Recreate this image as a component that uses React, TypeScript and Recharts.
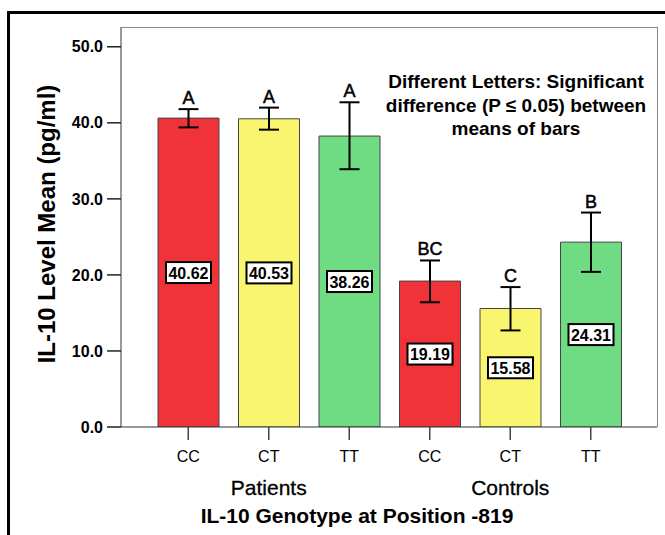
import React from 'react';
import { BarChart, Bar, XAxis, YAxis, ErrorBar, Cell, LabelList } from 'recharts';

// ---- data ----
const categories = ['CC', 'CT', 'TT', 'CC', 'CT', 'TT'];
const groups = ['Patients', 'Patients', 'Patients', 'Controls', 'Controls', 'Controls'];
const means = [40.62, 40.53, 38.26, 19.19, 15.58, 24.31];
const ciLow = [39.4, 39.1, 33.9, 16.4, 12.7, 20.4];
const ciHigh = [41.8, 42.0, 42.7, 21.9, 18.4, 28.2];
const letters = ['A', 'A', 'A', 'BC', 'C', 'B'];
const yTicks = [0, 10, 20, 30, 40, 50];
const groupLabelIndex = [1, 4];
const yTitle = 'IL-10 Level Mean (pg/ml)';
const xTitle = 'IL-10 Genotype at Position -819';
const noteLines = ['Different Letters: Significant', 'difference (P \u2264 0.05) between', 'means of bars'];

// ---- styles ----
const FONT = '"Liberation Sans", Arial, Helvetica, sans-serif';
const barColors = ['#EF3339', '#FAF56E', '#6FDC84', '#EF3339', '#FAF56E', '#6FDC84'];

const data = categories.map((c, i) => ({
  key: i,
  cat: c,
  mean: means[i],
  err: [means[i] - ciLow[i], ciHigh[i] - means[i]],
}));

function CategoryTick(props: any) {
  const { x, y, payload } = props;
  const i = Number(payload.value);
  return (
    <g>
      <text x={x} y={y + 22} textAnchor="middle" fontFamily={FONT} fontSize={16} fill="#000">
        {categories[i]}
      </text>
      {groupLabelIndex.includes(i) && (
        <text
          x={x}
          y={y + 55}
          textAnchor="middle"
          fontFamily={FONT}
          fontSize={21}
          fill="#000"
          stroke="#000"
          strokeWidth={0.3}
        >
          {groups[i]}
        </text>
      )}
    </g>
  );
}

function ValueBox(props: any) {
  const { x, y, width, height, value } = props;
  const cx = x + width / 2;
  const cy = y + height / 2;
  const bw = 45;
  const bh = 21;
  return (
    <g>
      <rect x={cx - bw / 2} y={cy - bh / 2} width={bw} height={bh} fill="#fff" stroke="#000" strokeWidth={2} />
      <text x={cx} y={cy + 6} textAnchor="middle" fontFamily={FONT} fontWeight="bold" fontSize={16} fill="#000">
        {Number(value).toFixed(2)}
      </text>
    </g>
  );
}

function LetterLabel(props: any) {
  const { x, y, width, height, value } = props;
  const i = Number(value);
  const pxPer = height / means[i];
  const top = y + height - ciHigh[i] * pxPer;
  return (
    <text
      x={x + width / 2}
      y={top - 5}
      textAnchor="middle"
      fontFamily={FONT}
      fontSize={18}
      fill="#000"
      stroke="#000"
      strokeWidth={0.5}
    >
      {letters[i]}
    </text>
  );
}

export default function App() {
  return (
    <div style={{ position: 'absolute', left: 0, top: 0, width: 665, height: 535, background: '#fff', overflow: 'hidden' }}>
      <div
        style={{
          position: 'absolute',
          left: 7,
          top: 11,
          width: 720,
          height: 620,
          borderLeft: '3px solid #000',
          borderTop: '3px solid #000',
        }}
      />
      <div style={{ position: 'absolute', left: 0, top: 0 }}>
        <BarChart
          width={665}
          height={535}
          data={data}
          margin={{ top: 27, right: 8, bottom: 0, left: 0 }}
          barSize={61}
        >
          <XAxis
            dataKey="key"
            type="category"
            padding={{ left: 27, right: 26 }}
            tickSize={13}
            tickMargin={0}
            height={108}
            axisLine={{ stroke: '#333', strokeWidth: 1 }}
            tickLine={{ stroke: '#444', strokeWidth: 1.5 }}
            tick={<CategoryTick />}
            interval={0}
          />
          <YAxis
            type="number"
            domain={[0, 52.6]}
            ticks={yTicks}
            width={121}
            tickSize={14}
            tickMargin={4}
            tickFormatter={(v: number) => v.toFixed(1)}
            axisLine={{ stroke: '#333', strokeWidth: 1 }}
            tickLine={{ stroke: '#222', strokeWidth: 1.5 }}
            tick={{ fontFamily: FONT, fontWeight: 'bold', fontSize: 16, fill: '#000' }}
            allowDataOverflow
          />
          <Bar dataKey="mean" isAnimationActive={false}>
            {data.map((d, i) => (
              <Cell key={d.key} fill={barColors[i]} stroke="#444" strokeWidth={1} />
            ))}
            <ErrorBar dataKey="err" width={10} stroke="#000" strokeWidth={2} direction="y" />
            <LabelList dataKey="mean" content={<ValueBox />} />
            <LabelList dataKey="key" content={<LetterLabel />} />
          </Bar>
        </BarChart>
      </div>
      <svg width={665} height={535} style={{ position: 'absolute', left: 0, top: 0, pointerEvents: 'none' }}>
        <line x1={121} y1={27.5} x2={657.5} y2={27.5} stroke="#888" strokeWidth={1} />
        <line x1={657.5} y1={27} x2={657.5} y2={427} stroke="#888" strokeWidth={1} />
        {noteLines.map((t, i) => (
          <text key={i} x={516} y={88 + i * 23.5} textAnchor="middle" fontFamily={FONT} fontWeight="bold" fontSize={19} fill="#000">
            {t}
          </text>
        ))}
        <text
          x={55}
          y={224}
          transform="rotate(-90, 55, 224)"
          textAnchor="middle"
          fontFamily={FONT}
          fontWeight="bold"
          fontSize={24}
          fill="#000"
        >
          {yTitle}
        </text>
        <text x={357} y={523} textAnchor="middle" fontFamily={FONT} fontWeight="bold" fontSize={21} fill="#000">
          {xTitle}
        </text>
      </svg>
    </div>
  );
}
